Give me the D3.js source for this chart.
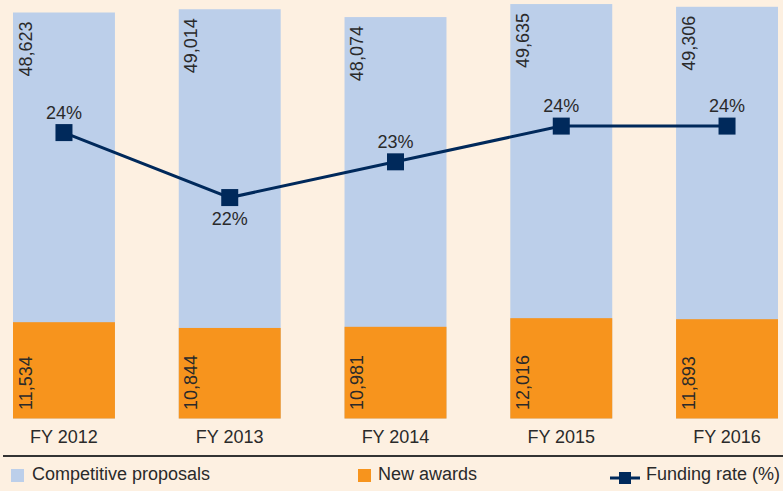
<!DOCTYPE html>
<html>
<head>
<meta charset="utf-8">
<script src="https://cdn.jsdelivr.net/npm/d3@7"></script>
<style>
  html, body { margin: 0; padding: 0; background: #fdf0e1; }
  svg { display: block; }
  text { font-family: "Liberation Sans", Arial, sans-serif; fill: #2a2a2a; }
</style>
</head>
<body>
<script>
const categories = ["FY 2012", "FY 2013", "FY 2014", "FY 2015", "FY 2016"];
const proposals = [48623, 49014, 48074, 49635, 49306];
const awards = [11534, 10844, 10981, 12016, 11893];
const fundingRate = [24.0, 22.0, 23.1, 24.2, 24.2];
const rateLabels = ["24%", "22%", "23%", "24%", "24%"];
const legendLabels = ["Competitive proposals", "New awards", "Funding rate (%)"];

const W = 783, H = 491;
const colBlue = "#bccfea", colOrange = "#f7941d", colNavy = "#00295b";

const svg = d3.select("body").append("svg").attr("width", W).attr("height", H);
svg.append("rect").attr("width", W).attr("height", H).attr("fill", "#fdf0e1");

const x = d3.scaleBand().domain(categories).range([13, 778]).paddingInner(0.385).paddingOuter(0);
const y = d3.scaleLinear().domain([0, 50000]).range([418.5, 1]);
const y2 = d3.scaleLinear().domain([15.2, 28.05]).range([418.5, 1]);
const fmt = d3.format(",");

const data = categories.map((c, i) => ({c, p: proposals[i], a: awards[i], r: fundingRate[i], rl: rateLabels[i], i}));

// bars
svg.selectAll("rect.prop").data(data).join("rect").attr("class", "prop")
  .attr("x", d => x(d.c)).attr("width", x.bandwidth())
  .attr("y", d => y(d.p)).attr("height", d => y(0) - y(d.p)).attr("fill", colBlue);
svg.selectAll("rect.award").data(data).join("rect").attr("class", "award")
  .attr("x", d => x(d.c)).attr("width", x.bandwidth())
  .attr("y", d => y(d.a)).attr("height", d => y(0) - y(d.a)).attr("fill", colOrange);

// bar value labels (rotated)
svg.selectAll("text.plab").data(data).join("text").attr("class", "plab")
  .attr("transform", d => `translate(${x(d.c) + 18.5},${y(d.p) + 9}) rotate(-90)`)
  .attr("text-anchor", "end").attr("font-size", 18).text(d => fmt(d.p));
svg.selectAll("text.alab").data(data).join("text").attr("class", "alab")
  .attr("transform", d => `translate(${x(d.c) + 18.5},${y(0) - 8.5}) rotate(-90)`)
  .attr("text-anchor", "start").attr("font-size", 18).text(d => fmt(d.a));

// category labels
svg.selectAll("text.cat").data(data).join("text").attr("class", "cat")
  .attr("x", d => x(d.c) + x.bandwidth() / 2).attr("y", 443)
  .attr("text-anchor", "middle").attr("font-size", 18).text(d => d.c);

// line
const cx = d => x(d.c) + x.bandwidth() / 2;
svg.append("path").datum(data)
  .attr("d", d3.line().x(cx).y(d => y2(d.r)))
  .attr("fill", "none").attr("stroke", colNavy).attr("stroke-width", 3);
svg.selectAll("rect.mk").data(data).join("rect").attr("class", "mk")
  .attr("x", d => cx(d) - 8.5).attr("y", d => y2(d.r) - 8.5)
  .attr("width", 17).attr("height", 17).attr("fill", colNavy);
svg.selectAll("text.rl").data(data).join("text").attr("class", "rl")
  .attr("x", cx).attr("y", d => d.i === 1 ? y2(d.r) + 27.5 : y2(d.r) - 14)
  .attr("text-anchor", "middle").attr("font-size", 18).text(d => d.rl);

// rule
svg.append("line").attr("x1", 3).attr("x2", 783).attr("y1", 456).attr("y2", 456)
  .attr("stroke", "#333").attr("stroke-width", 2);

// legend
const lg = svg.append("g");
lg.append("rect").attr("x", 11).attr("y", 469).attr("width", 13).attr("height", 13).attr("fill", colBlue);
lg.append("text").attr("x", 32).attr("y", 480).attr("font-size", 18).text(legendLabels[0]);
lg.append("rect").attr("x", 358).attr("y", 469).attr("width", 13).attr("height", 13).attr("fill", colOrange);
lg.append("text").attr("x", 378).attr("y", 480).attr("font-size", 18).text(legendLabels[1]);
lg.append("line").attr("x1", 610).attr("x2", 640).attr("y1", 478).attr("y2", 478).attr("stroke", colNavy).attr("stroke-width", 3);
lg.append("rect").attr("x", 619).attr("y", 472).attr("width", 12).attr("height", 12).attr("fill", colNavy);
lg.append("text").attr("x", 646).attr("y", 480).attr("font-size", 18).text(legendLabels[2]);
</script>
</body>
</html>
